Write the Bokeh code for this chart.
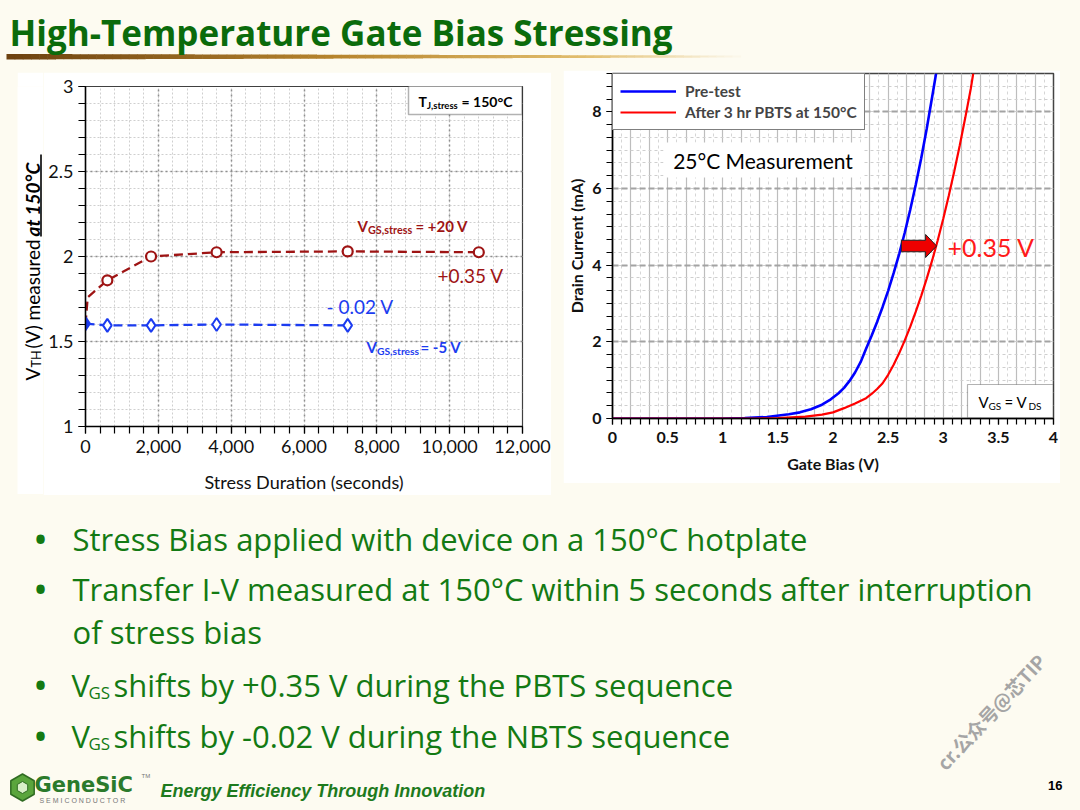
import math
import numpy as np
from bokeh.plotting import figure
from bokeh.models import (Range1d, Label, BoxAnnotation, Legend, LegendItem, Arrow,
                          SingleIntervalTicker, NumeralTickFormatter, Spacer)
from bokeh.layouts import row, column
from bokeh.embed import file_html
from bokeh.resources import INLINE

# ---------------- data ----------------
title_text = "High-Temperature Gate Bias Stressing"

# left chart: threshold voltage vs stress duration
stress_time_pbts = [0, 60, 600, 1800, 3600, 7200, 10800]
vth_pbts = [1.60, 1.76, 1.86, 2.00, 2.025, 2.03, 2.025]
pbts_marked = [False, False, True, True, True, True, True]
stress_time_nbts = [0, 600, 1800, 3600, 7200]
vth_nbts = [1.605, 1.595, 1.595, 1.60, 1.595]

# right chart: transfer curves
gate_bias_pre = [0.0, 1.0, 1.2, 1.4, 1.6, 1.7, 1.8, 1.9, 1.98, 2.05, 2.1, 2.15, 2.2, 2.25,
                 2.3, 2.35, 2.4, 2.45, 2.5, 2.55, 2.6, 2.65, 2.7, 2.75, 2.8, 2.85, 2.9, 2.935]
drain_current_pre = [0.0, 0.0, 0.01, 0.04, 0.11, 0.16, 0.24, 0.36, 0.5, 0.66, 0.8, 0.98, 1.2,
                     1.47, 1.82, 2.16, 2.52, 2.91, 3.33, 3.79, 4.29, 4.84, 5.44, 6.09, 6.79,
                     7.56, 8.4, 9.0]
gate_bias_post = [0.0, 1.3, 1.5, 1.75, 1.9, 2.0, 2.1, 2.2, 2.3, 2.35, 2.4, 2.45, 2.5, 2.55,
                  2.6, 2.65, 2.7, 2.75, 2.8, 2.85, 2.9, 2.95, 3.0, 3.05, 3.1, 3.15, 3.2, 3.25,
                  3.272]
drain_current_post = [0.0, 0.0, 0.01, 0.05, 0.1, 0.16, 0.27, 0.39, 0.53, 0.64, 0.77, 0.92,
                      1.14, 1.4, 1.7, 2.03, 2.39, 2.78, 3.2, 3.65, 4.13, 4.65, 5.21, 5.81,
                      6.45, 7.13, 7.85, 8.61, 9.0]
shift_level = 4.5
shift_from = 2.62
shift_to = 2.94

legend_labels = ["Pre-test", "After 3 hr PBTS at 150°C"]

bullet_lines = [
    "Stress Bias applied with device on a 150°C hotplate",
    "Transfer I-V measured at 150°C within 5 seconds after interruption",
    "of stress bias",
]
bullet_vgs_rest = [
    "shifts by +0.35 V during the PBTS sequence",
    "shifts by -0.02 V during the NBTS sequence",
]

# ---------------- styles ----------------
CREAM = "#fdfbf1"
FONT = "Lato"
SLIDE_FONT = "Open Sans"
GREEN_T = "#0b6b0b"
GREEN_B = "#137a13"
PBTS_C = "#9e1414"
NBTS_C = "#1c3cf0"
W, H = 1080, 810


def lab(p, x, y, text, size, color="black", style="normal", align="left",
        baseline="middle", angle=0.0, font=FONT):
    p.add_layout(Label(x=x, y=y, text=text, text_font=font,
                       text_font_size=f"{size}px", text_color=color,
                       text_font_style=style, text_align=align,
                       text_baseline=baseline, angle=angle))


def blank_fig(w, h, x0, x1, y0, y1, fill=CREAM):
    f = figure(title=None, frame_width=w, frame_height=h, x_range=Range1d(x0, x1),
               y_range=Range1d(y1, y0), min_border=0, x_axis_type=None,
               y_axis_type=None, toolbar_location=None, output_backend="svg")
    f.grid.visible = False
    f.outline_line_color = None
    f.background_fill_color = fill
    f.border_fill_color = fill
    return f


# ---------------- title band ----------------
tp = blank_fig(W, 68, 0, W, 0, 68)
lab(tp, 9, 32, title_text, 35, color=GREEN_T, style="bold", font=SLIDE_FONT)
stops = [(0.0, (110, 66, 16)), (0.45, (184, 134, 46)), (0.78, (226, 190, 110)), (1.0, (253, 251, 241))]


def grad(t):
    for (t0, c0), (t1, c1) in zip(stops[:-1], stops[1:]):
        if t <= t1:
            f = (t - t0) / (t1 - t0)
            return "#%02x%02x%02x" % tuple(int(a + (b - a) * f) for a, b in zip(c0, c1))
    return "#%02x%02x%02x" % stops[-1][1]


n = 90
edges = np.linspace(6, 740, n + 1)
ts = (edges[:-1] - 6) / (740 - 6)
tp.quad(left=edges[:-1], right=edges[1:] + 0.6, top=53.5 + 1.5 * ts, bottom=59.0 - 2.0 * ts,
        fill_color=[grad(t) for t in ts], line_color=None)

# ---------------- left chart ----------------
lp = figure(title=None, frame_width=437, frame_height=340, min_border_left=42, min_border_right=29,
            min_border_top=14, min_border_bottom=68, x_range=Range1d(0, 12000),
            y_range=Range1d(1, 3), toolbar_location=None, output_backend="svg")
lp.background_fill_color = "white"
lp.border_fill_color = "white"
lp.outline_line_color = "#404040"
lp.outline_line_width = 1.2
lp.xaxis.ticker = SingleIntervalTicker(interval=2000, num_minor_ticks=5)
lp.yaxis.ticker = SingleIntervalTicker(interval=0.5, num_minor_ticks=5)
lp.xaxis.formatter = NumeralTickFormatter(format="0,0")
lp.yaxis.formatter = NumeralTickFormatter(format="0.[0]")
for ax in lp.axis:
    ax.major_tick_in = 0
    ax.major_tick_out = 7
    ax.minor_tick_in = 0
    ax.minor_tick_out = 7
    ax.axis_line_color = "black"
    ax.axis_line_width = 1.5
    ax.major_tick_line_color = "black"
    ax.minor_tick_line_color = "black"
    ax.major_tick_line_width = 1.2
    ax.minor_tick_line_width = 1.2
    ax.major_label_text_font = FONT
    ax.major_label_text_font_size = "18px"
    ax.major_label_text_color = "#111111"
lp.xaxis.major_label_standoff = 6
lp.yaxis.major_label_standoff = 5
lp.xaxis.axis_label = "Stress Duration (seconds)"
lp.xaxis.axis_label_text_font = FONT
lp.xaxis.axis_label_text_font_size = "18px"
lp.xaxis.axis_label_text_font_style = "normal"
lp.xaxis.axis_label_text_color = "#111111"
lp.xaxis.axis_label_standoff = 15
for g in (lp.xgrid, lp.ygrid):
    g.grid_line_color = "#8f8f8f"
    g.grid_line_dash = "2 3"
    g.grid_line_width = 1.5
    g.minor_grid_line_color = "#cfcfcf"
    g.minor_grid_line_dash = "2 2"
    g.minor_grid_line_width = 1

lp.line(stress_time_pbts, vth_pbts, line_color=PBTS_C, line_width=2.3, line_dash="9 5")
mt = [t for t, m in zip(stress_time_pbts, pbts_marked) if m]
mv = [v for v, m in zip(vth_pbts, pbts_marked) if m]
lp.scatter(mt, mv, marker="circle", size=10, line_color=PBTS_C, line_width=2.2, fill_color="white")
lp.line(stress_time_nbts, vth_nbts, line_color=NBTS_C, line_width=2.3, line_dash="9 5")
lp.scatter(stress_time_nbts, vth_nbts, marker="diamond", size=13, line_color=NBTS_C, line_width=2,
           fill_color=[NBTS_C] + ["white"] * (len(stress_time_nbts) - 1))


def lx(px):
    return (px - 85) * 12000 / 437


def ly(py):
    return 3 - (py - 86) * 2 / 340


lp.add_layout(BoxAnnotation(left=lx(408), right=lx(521.5), top=ly(85), bottom=ly(114),
                            fill_color="white", fill_alpha=1, line_color="black", line_width=1.5))
lab(lp, lx(418), ly(101), "T", 14, style="bold")
lab(lp, lx(426.5), ly(105), "J,stress", 9.5, style="bold")
lab(lp, lx(461), ly(101), "= 150°C", 14, style="bold")

lab(lp, lx(357), ly(225), "V", 15, color=PBTS_C, style="bold")
lab(lp, lx(367.5), ly(229), "GS,stress", 10.8, color=PBTS_C, style="bold")
lab(lp, lx(415), ly(225), "= +20 V", 15, color=PBTS_C, style="bold")
lab(lp, lx(437), ly(275), "+0.35 V", 19, color=PBTS_C)

lab(lp, lx(326), ly(306), "- 0.02 V", 19, color=NBTS_C)
lab(lp, lx(366), ly(346), "V", 15, color=NBTS_C, style="bold")
lab(lp, lx(376.5), ly(350), "GS,stress", 10.3, color=NBTS_C, style="bold")
lab(lp, lx(420), ly(346), "= -5 V", 15, color=NBTS_C, style="bold")

# y-axis title of the left chart (rich text) in its own white strip
yl = blank_fig(26, 422, 17, 43, 72, 494, fill="white")
R = math.pi / 2
lab(yl, 31.5, 366, "V", 19, angle=R)
lab(yl, 36, 353, "TH", 12.5, angle=R)
lab(yl, 31.5, 334, "(V) measured", 19, angle=R)
lab(yl, 31.5, 222, "at 150°C", 19, style="bold italic", angle=R)
yl.add_layout(Arrow(x_start=40.5, y_start=222, x_end=40.5, y_end=140,
                    start=None, end=None, line_color="black", line_width=1.6))

# ---------------- right chart ----------------
rp = figure(title=None, frame_width=441, frame_height=345, min_border_left=49, min_border_right=7,
            min_border_top=3, min_border_bottom=65, x_range=Range1d(0, 4),
            y_range=Range1d(0, 9), toolbar_location=None, output_backend="svg")
rp.background_fill_color = "white"
rp.border_fill_color = "white"
rp.outline_line_color = "#444444"
rp.outline_line_width = 1.5
rp.xaxis.ticker = SingleIntervalTicker(interval=0.5, num_minor_ticks=6)
rp.yaxis.ticker = SingleIntervalTicker(interval=2, num_minor_ticks=6)
rp.xaxis.formatter = NumeralTickFormatter(format="0.[0]")
rp.yaxis.formatter = NumeralTickFormatter(format="0")
for ax in rp.axis:
    ax.major_tick_in = 0
    ax.major_tick_out = 6
    ax.minor_tick_in = 0
    ax.minor_tick_out = 6
    ax.axis_line_color = "black"
    ax.axis_line_width = 1.5
    ax.major_tick_line_color = "black"
    ax.minor_tick_line_color = "black"
    ax.major_tick_line_width = 1.2
    ax.minor_tick_line_width = 1.2
    ax.major_label_text_font = FONT
    ax.major_label_text_font_size = "16px"
    ax.major_label_text_font_style = "bold"
    ax.major_label_text_color = "#111111"
    ax.axis_label_text_font = FONT
    ax.axis_label_text_font_size = "16px"
    ax.axis_label_text_font_style = "bold"
    ax.axis_label_text_color = "#111111"
rp.xaxis.major_label_standoff = 7
rp.yaxis.major_label_standoff = 5
rp.xaxis.axis_label = "Gate Bias (V)"
rp.yaxis.axis_label = "Drain Current (mA)"
rp.xaxis.axis_label_standoff = 8
rp.yaxis.axis_label_standoff = 3
rp.xgrid.ticker = SingleIntervalTicker(interval=1 / 6, num_minor_ticks=2)
rp.xgrid.grid_line_color = "#bdbdbd"
rp.xgrid.grid_line_width = 1.2
rp.xgrid.minor_grid_line_color = "#d6d6d6"
rp.xgrid.minor_grid_line_dash = "3 3"
rp.ygrid.grid_line_color = "#a3a3a3"
rp.ygrid.grid_line_width = 2
rp.ygrid.grid_line_dash = "6 3"
rp.ygrid.minor_grid_line_color = "#cfcfcf"
rp.ygrid.minor_grid_line_dash = "3 3"

r_pre = rp.line(gate_bias_pre, drain_current_pre, line_color="#0000ff", line_width=2.6)
r_post = rp.line(gate_bias_post, drain_current_post, line_color="#ff0000", line_width=2.2)

head_base = shift_to - 0.10
rp.patch([shift_from, head_base, head_base, shift_to, head_base, head_base, shift_from],
         [shift_level - 0.15, shift_level - 0.15, shift_level - 0.30, shift_level,
          shift_level + 0.30, shift_level + 0.15, shift_level + 0.15],
         fill_color="#ee0000", line_color="#222222", line_width=1)

legend = Legend(items=[LegendItem(label=legend_labels[0], renderers=[r_pre]),
                       LegendItem(label=legend_labels[1], renderers=[r_post])],
                location="top_left", margin=0, padding=7, spacing=1, glyph_width=56,
                glyph_height=20, label_standoff=9, label_text_font=FONT,
                label_text_font_style="bold", label_text_font_size="15.5px",
                border_line_color="black", border_line_width=1.5,
                background_fill_color="white", background_fill_alpha=1)
rp.add_layout(legend)


def rx(px):
    return (px - 612) * 4 / 441


def ry(py):
    return (418 - py) * 9 / 345


rp.add_layout(BoxAnnotation(left=rx(663), right=rx(862), top=ry(142), bottom=ry(177),
                            fill_color="white", fill_alpha=1, line_color=None))
lab(rp, rx(762.5), ry(160), "25°C Measurement", 21, align="center")
lab(rp, rx(947), ry(246), "+0.35 V", 25, color="#ff1a1a")

rp.add_layout(BoxAnnotation(left=rx(967), right=rx(1052.5), top=ry(384), bottom=ry(417),
                            fill_color="white", fill_alpha=1, line_color="black", line_width=1.2))
lab(rp, rx(978), ry(401), "V", 15)
lab(rp, rx(988), ry(405), "GS", 10)
lab(rp, rx(1004), ry(401), "= V", 15)
lab(rp, rx(1028), ry(405), "DS", 10)

# ---------------- bullets and footer ----------------
bp = blank_fig(W, 310, 0, W, 500, 810)
BS = 31
for yc in (537, 587, 683, 734):
    lab(bp, 40, yc, "•", 40, color=GREEN_B, align="center", font=SLIDE_FONT)
lab(bp, 72, 537, bullet_lines[0], BS, color=GREEN_B, font=SLIDE_FONT)
lab(bp, 72, 587, bullet_lines[1], BS, color=GREEN_B, font=SLIDE_FONT)
lab(bp, 72, 630, bullet_lines[2], BS, color=GREEN_B, font=SLIDE_FONT)
for yc, rest in zip([683, 734], bullet_vgs_rest):
    lab(bp, 71, yc, "V", BS, color=GREEN_B, font=SLIDE_FONT)
    lab(bp, 88, yc + 8, "GS", 17, color=GREEN_B, font=SLIDE_FONT)
    lab(bp, 113, yc, rest, BS, color=GREEN_B, font=SLIDE_FONT)

# logo
bp.scatter([22], [786], marker="hex", size=27, fill_color="#5aa53c", line_color="#2f6b22",
           line_width=1.5, angle=math.pi / 6)
bp.scatter([22], [786], marker="hex", size=12, fill_color="#d9efc8", line_color="#2f6b22",
           line_width=1, angle=math.pi / 6)
lab(bp, 34, 783, "GeneSiC", 21, color="#2b7a2b", style="bold", font="DejaVu Sans")
lab(bp, 141, 774, "TM", 6, color="#777777", font="Liberation Sans")
lab(bp, 39, 799, "S E M I C O N D U C T O R", 7, color="#777777", font="Liberation Sans")
lab(bp, 160, 789, "Energy Efficiency Through Innovation", 18, color="#1d7a1d", style="bold italic",
    font="Liberation Sans")
lab(bp, 1062, 784, "16", 13, style="bold", align="right", font="Liberation Sans")
lab(bp, 990, 710, "cr.公众号@芯TIP", 19, color="#a5a5a5", style="bold", align="center",
    angle=0.82, font="Noto Sans CJK SC")

# ---------------- layout ----------------
left_panel = row(yl, lp)
mid = row(Spacer(width=17, height=432),
          column(Spacer(width=534, height=4), left_panel, Spacer(width=534, height=6)),
          Spacer(width=12, height=432),
          column(Spacer(width=497, height=2), rp, Spacer(width=497, height=17)),
          Spacer(width=20, height=432))
page = column(tp, mid, bp, styles={"background-color": CREAM})

open("out.html", "w").write(file_html(page, INLINE))
